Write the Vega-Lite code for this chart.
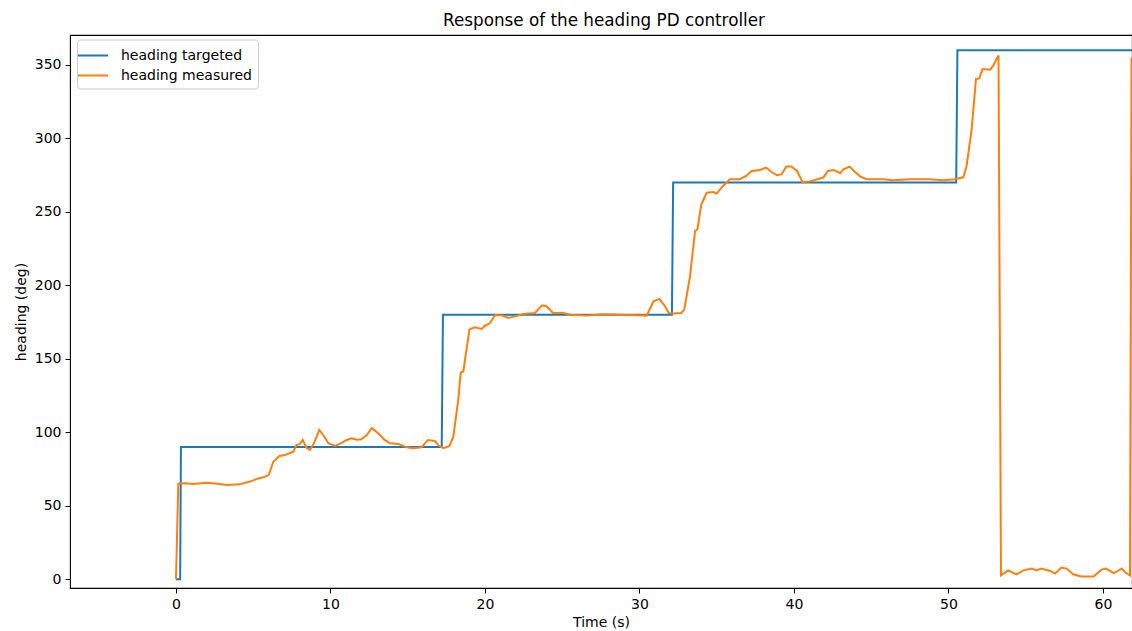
{
  "$schema": "https://vega.github.io/schema/vega-lite/v6.json",
  "autosize": {"type": "none"},
  "padding": {"left": 70, "top": 35, "right": 0, "bottom": 43},
  "width": 1062,
  "height": 553,
  "background": "white",
  "title": {"text": "Response of the heading PD controller", "font": "DejaVu Sans", "fontSize": 16.8, "fontWeight": "normal", "color": "black", "offset": 5, "dx": 3},
  "config": {
    "view": {"stroke": "black", "strokeWidth": 1.1},
    "axis": {"domain": false, "grid": false, "tickColor": "black", "tickSize": 5, "tickWidth": 1, "labelFont": "DejaVu Sans", "labelFontSize": 14, "labelColor": "black", "labelPadding": 4, "titleFont": "DejaVu Sans", "titleFontSize": 14, "titleFontWeight": "normal", "titleColor": "black"}
  },
  "datasets": {
    "d": [
      {"s": "heading targeted", "t": 0, "v": 0},
      {"s": "heading targeted", "t": 0.27, "v": 0},
      {"s": "heading targeted", "t": 0.32, "v": 90},
      {"s": "heading targeted", "t": 17.2, "v": 90},
      {"s": "heading targeted", "t": 17.28, "v": 180},
      {"s": "heading targeted", "t": 32.1, "v": 180},
      {"s": "heading targeted", "t": 32.18, "v": 270},
      {"s": "heading targeted", "t": 50.5, "v": 270},
      {"s": "heading targeted", "t": 50.58, "v": 360},
      {"s": "heading targeted", "t": 63, "v": 360},
      {"s": "heading measured", "t": 0, "v": 0},
      {"s": "heading measured", "t": 0.15, "v": 65},
      {"s": "heading measured", "t": 0.6, "v": 65.3},
      {"s": "heading measured", "t": 1.1, "v": 64.8},
      {"s": "heading measured", "t": 2.0, "v": 65.7},
      {"s": "heading measured", "t": 2.7, "v": 65},
      {"s": "heading measured", "t": 3.3, "v": 64.1},
      {"s": "heading measured", "t": 4.1, "v": 64.6},
      {"s": "heading measured", "t": 4.8, "v": 66.5},
      {"s": "heading measured", "t": 5.2, "v": 68.2},
      {"s": "heading measured", "t": 5.65, "v": 69.4},
      {"s": "heading measured", "t": 6.0, "v": 70.9},
      {"s": "heading measured", "t": 6.3, "v": 80},
      {"s": "heading measured", "t": 6.7, "v": 83.9},
      {"s": "heading measured", "t": 7.05, "v": 84.6},
      {"s": "heading measured", "t": 7.6, "v": 86.8},
      {"s": "heading measured", "t": 7.8, "v": 91.4},
      {"s": "heading measured", "t": 8.0, "v": 92},
      {"s": "heading measured", "t": 8.2, "v": 94.8},
      {"s": "heading measured", "t": 8.45, "v": 89.5},
      {"s": "heading measured", "t": 8.67, "v": 88},
      {"s": "heading measured", "t": 8.9, "v": 92},
      {"s": "heading measured", "t": 9.28, "v": 101.6},
      {"s": "heading measured", "t": 9.53, "v": 98.2},
      {"s": "heading measured", "t": 9.86, "v": 92.6},
      {"s": "heading measured", "t": 10.3, "v": 90.7},
      {"s": "heading measured", "t": 10.7, "v": 92.6},
      {"s": "heading measured", "t": 11.05, "v": 94.8},
      {"s": "heading measured", "t": 11.37, "v": 96},
      {"s": "heading measured", "t": 11.7, "v": 95},
      {"s": "heading measured", "t": 12.0, "v": 95.3},
      {"s": "heading measured", "t": 12.35, "v": 98.2},
      {"s": "heading measured", "t": 12.67, "v": 102.8},
      {"s": "heading measured", "t": 12.9, "v": 101},
      {"s": "heading measured", "t": 13.2, "v": 98.2},
      {"s": "heading measured", "t": 13.5, "v": 94.8},
      {"s": "heading measured", "t": 13.85, "v": 92.6},
      {"s": "heading measured", "t": 14.4, "v": 92},
      {"s": "heading measured", "t": 14.93, "v": 89.8},
      {"s": "heading measured", "t": 15.36, "v": 89.2},
      {"s": "heading measured", "t": 15.9, "v": 89.8},
      {"s": "heading measured", "t": 16.3, "v": 94.8},
      {"s": "heading measured", "t": 16.76, "v": 94.1},
      {"s": "heading measured", "t": 17.0, "v": 91},
      {"s": "heading measured", "t": 17.3, "v": 89.2},
      {"s": "heading measured", "t": 17.7, "v": 90.7},
      {"s": "heading measured", "t": 17.95, "v": 97},
      {"s": "heading measured", "t": 18.27, "v": 122},
      {"s": "heading measured", "t": 18.43, "v": 140.7},
      {"s": "heading measured", "t": 18.6, "v": 141.4},
      {"s": "heading measured", "t": 18.77, "v": 154},
      {"s": "heading measured", "t": 18.9, "v": 163},
      {"s": "heading measured", "t": 19.0, "v": 170},
      {"s": "heading measured", "t": 19.35, "v": 171.4},
      {"s": "heading measured", "t": 19.8, "v": 170.3},
      {"s": "heading measured", "t": 20.0, "v": 172.6},
      {"s": "heading measured", "t": 20.3, "v": 174},
      {"s": "heading measured", "t": 20.65, "v": 179.6},
      {"s": "heading measured", "t": 21.1, "v": 179.6},
      {"s": "heading measured", "t": 21.5, "v": 177.8},
      {"s": "heading measured", "t": 21.94, "v": 178.9},
      {"s": "heading measured", "t": 22.5, "v": 180.5},
      {"s": "heading measured", "t": 23.24, "v": 181.2},
      {"s": "heading measured", "t": 23.67, "v": 186.2},
      {"s": "heading measured", "t": 24.0, "v": 185.8},
      {"s": "heading measured", "t": 24.4, "v": 181.2},
      {"s": "heading measured", "t": 25.07, "v": 181.2},
      {"s": "heading measured", "t": 25.5, "v": 180},
      {"s": "heading measured", "t": 26.6, "v": 179.4},
      {"s": "heading measured", "t": 27.66, "v": 180.3},
      {"s": "heading measured", "t": 28.74, "v": 180},
      {"s": "heading measured", "t": 29.8, "v": 179.6},
      {"s": "heading measured", "t": 30.47, "v": 179.4},
      {"s": "heading measured", "t": 30.9, "v": 189.2},
      {"s": "heading measured", "t": 31.3, "v": 190.8},
      {"s": "heading measured", "t": 31.65, "v": 185.8},
      {"s": "heading measured", "t": 31.9, "v": 181.2},
      {"s": "heading measured", "t": 32.2, "v": 180.8},
      {"s": "heading measured", "t": 32.7, "v": 181.2},
      {"s": "heading measured", "t": 32.9, "v": 183.5},
      {"s": "heading measured", "t": 33.27, "v": 206},
      {"s": "heading measured", "t": 33.6, "v": 237},
      {"s": "heading measured", "t": 33.75, "v": 238},
      {"s": "heading measured", "t": 34.0, "v": 255},
      {"s": "heading measured", "t": 34.35, "v": 263},
      {"s": "heading measured", "t": 34.8, "v": 263.5},
      {"s": "heading measured", "t": 35.0, "v": 262.4},
      {"s": "heading measured", "t": 35.4, "v": 267.6},
      {"s": "heading measured", "t": 35.86, "v": 272.2},
      {"s": "heading measured", "t": 36.5, "v": 272.2},
      {"s": "heading measured", "t": 36.9, "v": 274.4},
      {"s": "heading measured", "t": 37.26, "v": 277.8},
      {"s": "heading measured", "t": 37.8, "v": 278.5},
      {"s": "heading measured", "t": 38.2, "v": 280.1},
      {"s": "heading measured", "t": 38.55, "v": 277.1},
      {"s": "heading measured", "t": 38.9, "v": 274.9},
      {"s": "heading measured", "t": 39.2, "v": 275.6},
      {"s": "heading measured", "t": 39.5, "v": 280.8},
      {"s": "heading measured", "t": 39.84, "v": 280.8},
      {"s": "heading measured", "t": 40.2, "v": 277.8},
      {"s": "heading measured", "t": 40.55, "v": 270.3},
      {"s": "heading measured", "t": 41.0, "v": 270.6},
      {"s": "heading measured", "t": 41.35, "v": 271.7},
      {"s": "heading measured", "t": 41.9, "v": 273.3},
      {"s": "heading measured", "t": 42.2, "v": 277.8},
      {"s": "heading measured", "t": 42.55, "v": 278.5},
      {"s": "heading measured", "t": 43.0, "v": 276.3},
      {"s": "heading measured", "t": 43.2, "v": 279},
      {"s": "heading measured", "t": 43.6, "v": 280.8},
      {"s": "heading measured", "t": 43.95, "v": 277.1},
      {"s": "heading measured", "t": 44.3, "v": 274},
      {"s": "heading measured", "t": 44.7, "v": 272.2},
      {"s": "heading measured", "t": 45.8, "v": 272.2},
      {"s": "heading measured", "t": 46.4, "v": 271.5},
      {"s": "heading measured", "t": 47.5, "v": 272.2},
      {"s": "heading measured", "t": 48.8, "v": 272.2},
      {"s": "heading measured", "t": 49.66, "v": 271.5},
      {"s": "heading measured", "t": 50.4, "v": 272.2},
      {"s": "heading measured", "t": 50.96, "v": 273.5},
      {"s": "heading measured", "t": 51.17, "v": 281},
      {"s": "heading measured", "t": 51.5, "v": 306},
      {"s": "heading measured", "t": 51.78, "v": 340.4},
      {"s": "heading measured", "t": 52.0, "v": 340.8},
      {"s": "heading measured", "t": 52.2, "v": 347.2},
      {"s": "heading measured", "t": 52.7, "v": 346.7},
      {"s": "heading measured", "t": 52.9, "v": 349.5},
      {"s": "heading measured", "t": 53.24, "v": 356.3},
      {"s": "heading measured", "t": 53.4, "v": 2.7},
      {"s": "heading measured", "t": 53.86, "v": 6.1},
      {"s": "heading measured", "t": 54.4, "v": 3.4},
      {"s": "heading measured", "t": 54.85, "v": 6.1},
      {"s": "heading measured", "t": 55.4, "v": 7.3},
      {"s": "heading measured", "t": 55.7, "v": 6.1},
      {"s": "heading measured", "t": 56.0, "v": 7.3},
      {"s": "heading measured", "t": 56.6, "v": 5.7},
      {"s": "heading measured", "t": 56.9, "v": 3.9},
      {"s": "heading measured", "t": 57.3, "v": 8},
      {"s": "heading measured", "t": 57.65, "v": 7.3},
      {"s": "heading measured", "t": 58.07, "v": 3.4},
      {"s": "heading measured", "t": 58.6, "v": 2},
      {"s": "heading measured", "t": 59.4, "v": 2},
      {"s": "heading measured", "t": 59.9, "v": 6.6},
      {"s": "heading measured", "t": 60.2, "v": 7.3},
      {"s": "heading measured", "t": 60.7, "v": 4.3},
      {"s": "heading measured", "t": 61.0, "v": 6},
      {"s": "heading measured", "t": 61.2, "v": 7.3},
      {"s": "heading measured", "t": 61.5, "v": 4.3},
      {"s": "heading measured", "t": 61.75, "v": 2.7},
      {"s": "heading measured", "t": 61.85, "v": 355}
    ]
  },
  "data": {"name": "d"},
  "mark": {"type": "line", "clip": true, "strokeWidth": 2},
  "encoding": {
    "x": {"field": "t", "type": "quantitative", "scale": {"domain": [-6.86, 61.88], "nice": false, "zero": false}, "axis": {"title": "Time (s)", "values": [0, 10, 20, 30, 40, 50, 60], "titlePadding": 4}},
    "y": {"field": "v", "type": "quantitative", "scale": {"domain": [-5.9, 370.3], "nice": false, "zero": false}, "axis": {"title": "heading (deg)", "values": [0, 50, 100, 150, 200, 250, 300, 350], "titlePadding": 6}},
    "color": {"field": "s", "type": "nominal", "scale": {"domain": ["heading targeted", "heading measured"], "range": ["#1f77b4", "#ff7f0e"]},
      "legend": {"title": null, "orient": "none", "legendX": 7, "legendY": 4.5, "symbolType": "M-1.75,0L1.75,0", "symbolSize": 300, "symbolStrokeWidth": 2, "labelFont": "DejaVu Sans", "labelFontSize": 14, "labelColor": "black", "labelOffset": 18, "strokeColor": "#cccccc", "fillColor": "white", "cornerRadius": 3, "padding": 6, "rowPadding": 3}}
  }
}
